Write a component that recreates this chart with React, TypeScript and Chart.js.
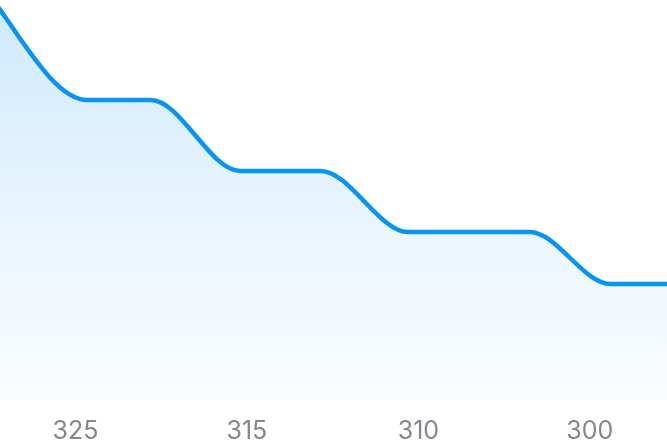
import { useEffect, useRef } from 'react'
import { Chart, registerables } from 'chart.js'

Chart.register(...registerables)

// tick labels along the bottom, one per whole step of the x scale
const tickLabels = ['325', '315', '310', '300']
const tickValues = [0, 1, 2, 3]

// visible x range (in label steps)
const xMin = -0.44
const xMax = 3.45

// points of the curve (x in label steps, y in chart units 0..400)
const xValues = [-0.6, 0.07, 0.44, 0.96, 1.43, 1.94, 2.65, 3.12, 3.45]
const yValues = [426, 300, 300, 229, 229, 168, 168, 116, 116]

const LINE_COLOR = '#0794f4'

export default function App() {
  const chartRef = useRef<HTMLCanvasElement>(null)
  const chartInstance = useRef<Chart | null>(null)

  useEffect(() => {
    if (!chartRef.current) return
    const ctx = chartRef.current.getContext('2d')
    if (!ctx) return

    if (chartInstance.current) {
      chartInstance.current.destroy()
    }

    chartInstance.current = new Chart(ctx, {
      type: 'line',
      data: {
        datasets: [
          {
            data: xValues.map((x, i) => ({ x, y: yValues[i] })),
            borderColor: LINE_COLOR,
            borderWidth: 4.5,
            borderCapStyle: 'round',
            borderJoinStyle: 'round',
            pointRadius: 0,
            tension: 0.4,
            cubicInterpolationMode: 'monotone',
            fill: 'start',
            backgroundColor: (c: any) => {
              const area = c.chart.chartArea
              if (!area) return 'rgba(9,148,245,0.1)'
              const g = c.chart.ctx.createLinearGradient(0, area.top, 0, area.bottom)
              g.addColorStop(0, 'rgba(9,148,245,0.2)')
              g.addColorStop(0.6, 'rgba(9,148,245,0.08)')
              g.addColorStop(1, 'rgba(9,148,245,0.02)')
              return g
            },
          },
        ],
      },
      options: {
        animation: false,
        responsive: true,
        maintainAspectRatio: false,
        layout: { padding: 0 },
        plugins: {
          legend: { display: false },
          tooltip: { enabled: false },
        },
        scales: {
          x: {
            type: 'linear',
            min: xMin,
            max: xMax,
            grid: { display: false, drawTicks: false },
            border: { display: false },
            afterBuildTicks: (scale: any) => {
              scale.ticks = tickValues.map(v => ({ value: v }))
            },
            afterFit: (scale: any) => {
              scale.height = 48
            },
            ticks: {
              padding: 16,
              color: '#87878f',
              font: { family: 'Inter', size: 25 },
              maxRotation: 0,
              autoSkip: false,
              callback: (value: any) => {
                const idx = tickValues.indexOf(Number(value))
                return idx >= 0 ? tickLabels[idx] : ''
              },
            },
          },
          y: {
            display: false,
            min: 0,
            max: 400,
          },
        },
      },
    })

    return () => {
      if (chartInstance.current) {
        chartInstance.current.destroy()
        chartInstance.current = null
      }
    }
  }, [])

  return (
    <div style={{ position: 'absolute', left: 0, top: 0, width: 667, height: 448, background: '#fff' }}>
      <canvas ref={chartRef} />
    </div>
  )
}
